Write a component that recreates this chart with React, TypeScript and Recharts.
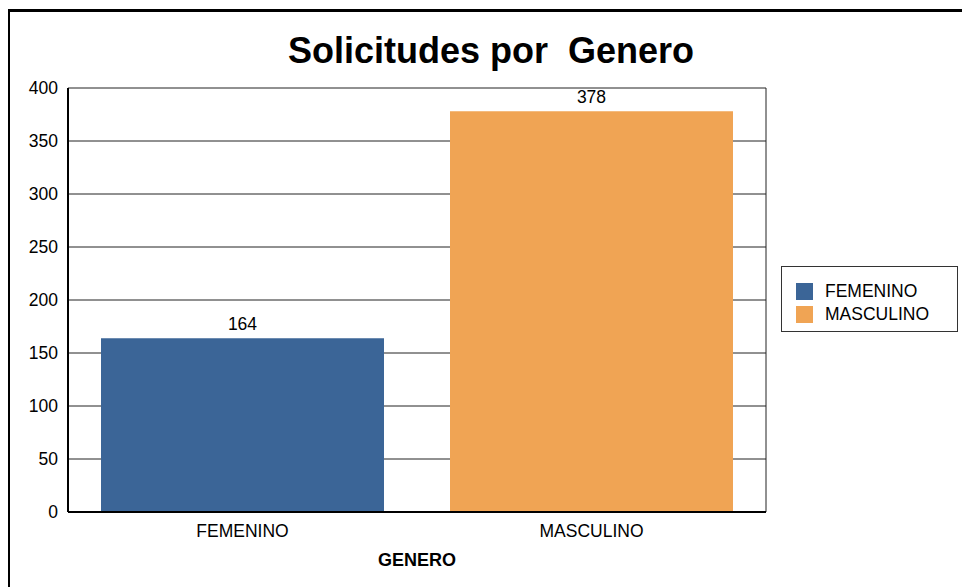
import {
  BarChart,
  Bar,
  Cell,
  XAxis,
  YAxis,
  CartesianGrid,
  LabelList,
} from "recharts";

const categories = ["FEMENINO", "MASCULINO"];
const solicitudes = [164, 378];
const colors = ["#3B6597", "#F0A454"];
const yTicks = [0, 50, 100, 150, 200, 250, 300, 350, 400];

const data = categories.map((genero, i) => ({ genero, solicitudes: solicitudes[i] }));

const FONT = '"Liberation Sans", Arial, Helvetica, sans-serif';

function LegendBox() {
  return (
    <div
      style={{
        position: "absolute",
        left: 781,
        top: 266,
        width: 177,
        height: 66,
        boxSizing: "border-box",
        border: "1.5px solid #333",
        padding: "13px 0 0 14px",
        fontFamily: FONT,
        fontSize: 17.5,
        color: "#000",
        background: "#fff",
      }}
    >
      {categories.map((c, i) => (
        <div key={c} style={{ display: "flex", alignItems: "center", height: 23 }}>
          <span
            style={{
              display: "inline-block",
              width: 17,
              height: 17,
              background: colors[i],
              marginRight: 12,
            }}
          />
          <span>{c}</span>
        </div>
      ))}
    </div>
  );
}

export default function App() {
  return (
    <div
      style={{
        position: "fixed",
        left: 0,
        top: 0,
        width: 962,
        height: 587,
        overflow: "hidden",
        background: "#fff",
      }}
    >
      <div
        style={{
          position: "absolute",
          left: 8,
          top: 9,
          width: 1200,
          height: 1200,
          borderTop: "3px solid #000",
          borderLeft: "2.5px solid #000",
        }}
      />
      <div style={{ position: "absolute", left: 0, top: 0 }}>
        <BarChart
          width={962}
          height={587}
          data={data}
          margin={{ top: 88, right: 196, bottom: 15, left: 10 }}
          barCategoryGap={33}
        >
          <CartesianGrid
            stroke="#222"
            strokeWidth={1}
            yAxisId="left"
            verticalCoordinatesGenerator={({ offset }: any) => [offset.left + offset.width]}
          />
          <XAxis
            dataKey="genero"
            height={60}
            tickLine={false}
            tickSize={0}
            tickMargin={13}
            axisLine={{ stroke: "#000", strokeWidth: 2 }}
            tick={{ fill: "#000", fontSize: 17.5, fontFamily: FONT }}
            label={{
              value: "GENERO",
              position: "insideBottom",
              offset: 6,
              fill: "#000",
              fontSize: 18,
              fontWeight: "bold",
              fontFamily: FONT,
            }}
          />
          <YAxis
            yAxisId="left"
            width={58}
            domain={[0, 400]}
            ticks={yTicks}
            interval={0}
            tickLine={false}
            tickSize={0}
            tickMargin={10}
            axisLine={{ stroke: "#000", strokeWidth: 2 }}
            tick={{ fill: "#000", fontSize: 17.5, fontFamily: FONT }}
          />
          <Bar yAxisId="left" dataKey="solicitudes" isAnimationActive={false}>
            {data.map((d, i) => (
              <Cell key={d.genero} fill={colors[i]} />
            ))}
            <LabelList
              dataKey="solicitudes"
              position="top"
              offset={8}
              fill="#000"
              fontSize={17.5}
              fontFamily={FONT}
            />
          </Bar>
        </BarChart>
      </div>
      <div
        style={{
          position: "absolute",
          left: 0,
          top: 30,
          width: 982,
          textAlign: "center",
          fontFamily: FONT,
          fontWeight: "bold",
          fontSize: 36,
          whiteSpace: "pre",
          color: "#000",
        }}
      >
        {"Solicitudes por  Genero"}
      </div>
      <LegendBox />
    </div>
  );
}
